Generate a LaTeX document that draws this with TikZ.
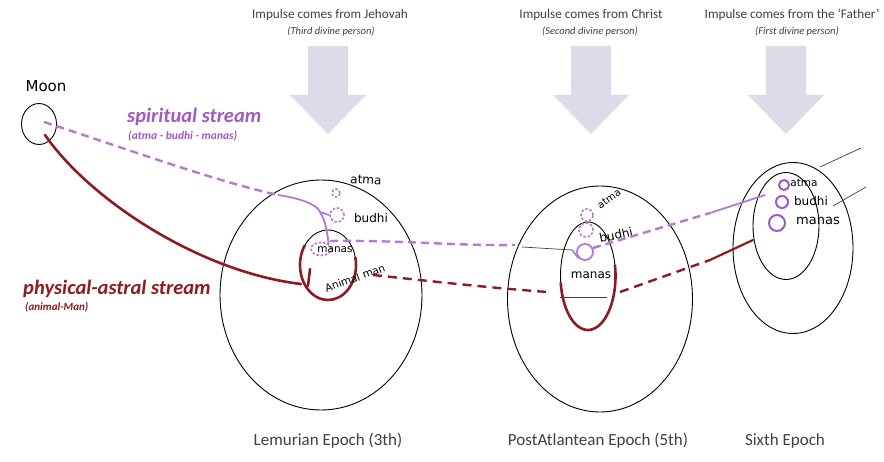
\documentclass[tikz,border=0pt]{standalone}
\usepackage{fontspec}
\setmainfont{Carlito}
\newfontfamily\handfont{DejaVu Sans}
\usetikzlibrary{shapes.geometric}
\definecolor{pur}{HTML}{A259C2}
\definecolor{purl}{HTML}{B47AD0}
\definecolor{dred}{HTML}{8E1B22}
\definecolor{arrowfill}{HTML}{DEDBE9}
\definecolor{txtgray}{HTML}{404040}
\tikzset{
  oval/.style={ellipse,draw=black,line width=0.9pt,inner sep=0pt},
  dcirc/.style={circle,draw=purl,line width=1.6pt,dash pattern=on 2.5pt off 1.8pt,inner sep=0pt},
  scirc/.style={circle,draw=pur,line width=2pt,inner sep=0pt},
  spdash/.style={draw=purl,line width=2.4pt,dash pattern=on 8pt off 5pt},
  spsolid/.style={draw=purl,line width=1.8pt},
  phsolid/.style={draw=dred,line width=2.6pt,line cap=round},
  phdash/.style={draw=dred,line width=2.4pt,dash pattern=on 9pt off 6pt},
  thin/.style={draw=black!75,line width=0.7pt},
  hand/.style={font=\handfont\fontsize{12}{13}\selectfont,inner sep=0pt},
  toptxt/.style={font=\fontsize{13.2}{15}\selectfont,text=txtgray,inner sep=0pt},
  subtxt/.style={font=\fontsize{10.5}{12}\selectfont\itshape,text=txtgray,inner sep=0pt},
  bottxt/.style={font=\fontsize{17}{19}\selectfont,text=txtgray,inner sep=0pt},
  bigarrow/.style={fill=arrowfill,draw=none},
}
\begin{document}
\begin{tikzpicture}[x=1pt,y=-1pt]
\useasboundingbox (0,0) rectangle (884,462);
\fill[white] (0,0) rectangle (884,462);

% top labels
\node[toptxt] (t1) at (330,15) {Impulse comes from Jehovah};
\node[subtxt] (s1) at (331,32) {(Third divine person)};
\node[toptxt] (t2) at (591,15) {Impulse comes from Christ};
\node[subtxt] (s2) at (590,32) {(Second divine person)};
\node[toptxt] (t3) at (792,15) {Impulse comes from the ‘Father’};
\node[subtxt] (s3) at (797,32) {(First divine person)};

% big arrows
\foreach \c/\n in {328/a1,591/a2,786/a3}{
  \path[bigarrow] (\c-20,46) -- (\c+20,46) -- (\c+20,95) -- (\c+38,95) -- (\c,134) -- (\c-38,95) -- (\c-20,95) -- cycle;
}

% bottom labels
\node[bottxt] (b1) at (328,441) {Lemurian Epoch (3th)};
\node[bottxt] (b2) at (598,441) {PostAtlantean Epoch (5th)};
\node[bottxt] (b3) at (785,441) {Sixth Epoch};

% stream labels
\node[anchor=west,inner sep=0pt,text=pur,font=\fontsize{20.5}{22}\selectfont\bfseries\itshape] (spl) at (127,117) {spiritual stream};
\node[anchor=west,inner sep=0pt,text=pur,font=\fontsize{11.5}{13}\selectfont\bfseries\itshape] (spl2) at (128,136) {(atma - budhi - manas)};
\node[anchor=west,inner sep=0pt,text=dred,font=\fontsize{20.5}{22}\selectfont\bfseries\itshape] (phl) at (23,289) {physical-astral stream};
\node[anchor=west,inner sep=0pt,text=dred,font=\fontsize{11}{13}\selectfont\bfseries\itshape] (phl2) at (25,307) {(animal-Man)};

% Moon
\node[hand,font=\handfont\fontsize{15}{16}\selectfont] (moonlbl) at (46,86) {Moon};
\node[ellipse,draw=black,line width=0.9pt,minimum width=35pt,minimum height=41pt,inner sep=0pt] (moon) at (39,124) {};

% Lemurian
\node[oval,minimum width=202pt,minimum height=230pt] (lem) at (321,295) {};
\node[oval,minimum width=56pt,minimum height=70pt] (lemin) at (328,265) {};
\draw[dred,line width=2.6pt] ([shift={(-145:28 and 35)}]lemin.center) arc[start angle=-145,end angle=-373,x radius=28,y radius=35];
\node[dcirc,minimum size=8pt] (lematma) at (336,193) {};
\node[dcirc,minimum size=14pt] (lembudhi) at (337,215) {};
\node[ellipse,draw=purl,line width=1.6pt,dash pattern=on 2.5pt off 1.8pt,inner sep=0pt,minimum width=20pt,minimum height=13pt] (lemmanas) at (321,249) {};
\node[hand,rotate=-4] (lematmat) at (366,180) {atma};
\node[hand] (lembudhit) at (371,218) {budhi};
\node[hand,font=\handfont\fontsize{10.5}{11}\selectfont] (lemmanast) at (335,250) {manas};
\node[hand,rotate=20,font=\handfont\fontsize{10.5}{11}\selectfont] (lemanimal) at (355,278) {Animal man};

% PostAtlantean
\node[oval,minimum width=185pt,minimum height=226pt] (post) at (600,299) {};
\node[oval,minimum width=55pt,minimum height=108pt] (postin) at (588,276) {};
\draw[dred,line width=2.6pt] ([shift={(-187:27.5 and 54)}]postin.center) arc[start angle=-187,end angle=-372,x radius=27.5,y radius=54];
\node[dcirc,minimum size=12pt] (postatma) at (587,215) {};
\node[dcirc,minimum size=14pt] (postbudhi) at (586,230) {};
\node[scirc,draw=purl,line width=1.8pt,minimum size=16pt] (postmanas) at (585,252) {};
\node[hand,rotate=35,font=\handfont\fontsize{10}{11}\selectfont] (postatmat) at (609,199) {atma};
\node[hand,rotate=12] (postbudhit) at (616,235) {budhi};
\node[hand] (postmanast) at (591,275) {manas};

% Sixth
\node[oval,minimum width=120pt,minimum height=171pt] (six) at (793,248) {};
\node[oval,minimum width=66pt,minimum height=107pt] (sixin) at (786,226) {};
\node[scirc,minimum size=10pt] (sixatma) at (784,185) {};
\node[scirc,minimum size=12pt] (sixbudhi) at (782,202) {};
\node[scirc,minimum size=16pt] (sixmanas) at (777,223) {};
\node[hand,font=\handfont\fontsize{10.5}{11}\selectfont] (sixatmat) at (804,183) {atma};
\node[hand] (sixbudhit) at (811,201) {budhi};
\node[hand,font=\handfont\fontsize{13}{14}\selectfont] (sixmanast) at (818,221) {manas};
\coordinate (r1a) at (820,167);
\coordinate (r1b) at (861,148);
\coordinate (r2a) at (833,206);
\coordinate (r2b) at (866,187);
\draw[thin] (r1a) -- (r1b);
\draw[thin] (r2a) -- (r2b);

% spiritual stream
\coordinate (spA) at (44,122);
\coordinate (spB) at (278,195);
\coordinate (spBranch) at (320,212);
\draw[spdash] (spA) .. controls (130,150) and (215,181) .. (spB);
\draw[spsolid] (spB) .. controls (300,198) and (318,205) .. (spBranch) .. controls (326,222) and (327,232) .. (lemmanas.north east);
\draw[spsolid] (spBranch) -- (lembudhi.west);
\coordinate (sp1) at (330,241);
\coordinate (sp2) at (515,245);
\coordinate (sp3) at (522,247);
\coordinate (sp4) at (572,250);
\coordinate (sp5) at (593,248);
\coordinate (sp6) at (710,213);
\coordinate (sp7) at (765,195);
\draw[spdash] (sp1) .. controls (400,240) and (460,246) .. (sp2);
\draw[thin] (sp3) -- (sp4);
\draw[spsolid] (sp4) -- (postmanas.south west);
\draw[spdash] (sp5) -- (sp6);
\draw[spsolid] (sp6) -- (sp7);

% physical-astral stream
\coordinate (phA) at (45,135);
\coordinate (phB) at (301,284);
\draw[phsolid] (phA) .. controls (90,200) and (200,272) .. (phB);
\draw[phsolid] (310,269) -- (308,286);
\coordinate (ph1) at (373,275);
\coordinate (ph2) at (548,292);
\coordinate (ph3) at (560,297);
\coordinate (ph4) at (607,297);
\coordinate (ph5) at (620,292);
\coordinate (ph6) at (710,260);
\coordinate (ph7) at (753,240);
\draw[phdash] (ph1) .. controls (420,280) and (490,288) .. (ph2);
\draw[thin] (ph3) -- (ph4);
\draw[phdash] (ph5) -- (ph6);
\draw[phsolid,line width=2.2pt] (ph6) -- (ph7);
\end{tikzpicture}
\end{document}
